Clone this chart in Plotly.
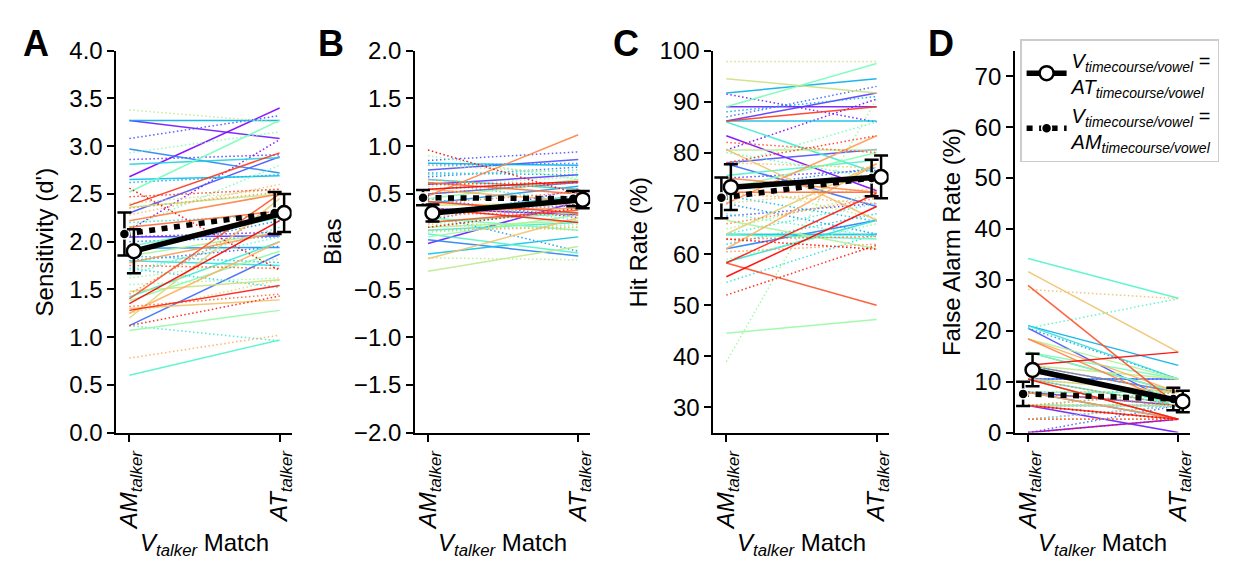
import plotly.graph_objects as go
from plotly.subplots import make_subplots
import math

# ---- data: one row per subject, colour from rainbow colormap ----
# solid = V timecourse/vowel = AT, dotted = V timecourse/vowel = AM
# each pair: value at AM_talker, value at AT_talker

dprime_solid_am = [2.68, 3.27, 2.05, 2.30, 1.12, 2.97, 1.93, 3.27, 2.65, 2.81,
                   1.80, 1.42, 0.60, 1.95, 2.52, 1.38, 1.07, 1.85, 2.36, 1.48,
                   1.20, 1.30, 1.25, 1.78, 2.22, 2.15, 1.40, 2.38, 1.28, 1.35]
dprime_solid_at = [3.40, 3.08, 2.06, 2.89, 1.87, 2.72, 1.94, 3.27, 2.69, 2.88,
                   1.75, 2.00, 0.97, 2.25, 3.27, 1.90, 1.28, 2.10, 2.50, 1.60,
                   2.45, 1.39, 2.00, 2.10, 2.50, 2.32, 2.50, 2.93, 1.54, 2.22]
dprime_dot_am = [2.12, 2.05, 2.86, 3.08, 1.80, 2.00, 1.90, 2.62, 1.85, 1.72,
                 2.20, 1.12, 1.65, 1.70, 2.15, 2.93, 1.55, 1.62, 3.38, 2.40,
                 1.25, 2.28, 0.78, 2.35, 1.45, 1.32, 1.75, 2.47, 1.12, 2.56]
dprime_dot_at = [3.07, 2.10, 2.91, 3.32, 1.95, 2.05, 2.22, 2.70, 1.78, 1.52,
                 2.28, 0.96, 2.15, 2.05, 2.80, 3.15, 1.62, 1.82, 3.25, 2.55,
                 1.60, 2.60, 1.02, 2.52, 2.35, 1.45, 1.72, 2.55, 1.43, 1.70]

bias_solid_am = [0.35, -0.02, 0.60, 0.75, 0.50, 0.02, 0.40, 0.82, -0.13, 0.65,
                 0.30, 0.12, 0.08, 0.20, 0.25, 0.45, 0.05, 0.15, -0.31, 0.38,
                 0.28, -0.18, 0.55, 0.32, 0.48, 0.62, 0.20, 0.42, 0.35, 0.55]
bias_solid_at = [0.28, 0.42, 0.70, 0.86, 0.62, -0.15, 0.58, 0.80, 0.05, 0.55,
                 0.48, 0.20, -0.12, 0.30, 0.12, 0.65, 0.28, 0.22, -0.05, 0.40,
                 0.45, 0.25, 0.42, 0.35, 1.12, 0.50, 0.33, 0.30, 0.20, 0.63]
bias_dot_am = [0.22, 0.45, 0.30, 0.85, 0.68, 0.80, 0.28, 0.72, 0.55, 0.15,
               0.62, 0.70, 0.45, 0.35, 0.10, 0.90, 0.20, 0.58, -0.17, 0.80,
               0.18, 0.25, 0.12, 0.65, 0.40, 0.30, 0.50, 0.60, 0.15, 0.96]
bias_dot_at = [0.55, 0.25, 0.38, 0.94, 0.78, 0.82, -0.10, 0.70, 0.62, 0.35,
               0.42, 0.75, 0.22, 0.30, 0.18, 0.65, 0.15, 0.68, -0.19, 0.72,
               0.12, 0.40, 0.15, 0.55, 0.52, 0.28, 0.62, 0.62, 0.35, 0.50]

hit_solid_am = [83.3, 89.0, 86.2, 78.0, 77.8, 61.1, 63.9, 91.7, 86.2, 63.9,
                58.5, 86.0, 75.5, 63.9, 89.0, 72.8, 44.5, 66.7, 80.5, 94.5,
                64.0, 80.6, 61.1, 70.0, 75.0, 72.2, 58.3, 86.2, 58.3, 55.6]
hit_solid_at = [72.5, 89.0, 91.7, 80.6, 69.4, 66.7, 63.9, 94.5, 86.2, 63.9,
                66.7, 76.0, 78.5, 63.0, 97.5, 80.0, 47.2, 61.1, 80.5, 91.7,
                77.8, 66.7, 77.8, 83.3, 72.2, 72.2, 50.0, 89.0, 72.0, 69.4]
hit_dot_am = [80.5, 91.5, 75.0, 67.5, 87.0, 73.0, 70.0, 88.0, 71.5, 62.0,
              54.5, 64.0, 68.0, 80.0, 77.5, 59.0, 38.9, 65.0, 74.0, 97.9,
              70.0, 78.0, 72.0, 60.5, 66.0, 63.0, 82.0, 78.0, 52.0, 63.0]
hit_dot_at = [90.5, 86.0, 76.5, 70.0, 93.0, 77.0, 64.0, 91.0, 66.5, 68.0,
              64.0, 70.0, 63.5, 75.0, 86.0, 66.0, 90.5, 72.0, 67.0, 97.9,
              73.0, 77.0, 70.0, 62.0, 71.0, 63.5, 80.0, 83.3, 61.8, 61.0]

fa_solid_am = [0.0, 5.3, 7.9, 20.5, 10.5, 13.2, 7.9, 21.0, 15.8, 5.3,
               21.0, 10.5, 34.2, 13.2, 15.8, 7.9, 15.8, 18.4, 13.2, 5.3,
               10.5, 31.6, 18.4, 7.9, 18.4, 10.5, 28.9, 5.3, 10.5, 13.2]
fa_solid_at = [2.6, 0.0, 5.3, 5.3, 10.5, 7.9, 2.6, 13.2, 7.9, 5.3,
               10.5, 5.3, 26.4, 5.3, 10.5, 7.9, 7.9, 10.5, 10.5, 5.3,
               7.9, 15.8, 7.9, 2.6, 5.3, 2.6, 5.3, 2.6, 2.6, 15.8]
fa_dot_am = [2.6, 2.6, 5.3, 10.5, 0.0, 5.3, 20.5, 7.9, 5.3, 10.5,
             5.3, 12.9, 20.5, 7.9, 13.2, 2.6, 5.3, 10.5, 5.3, 2.6,
             7.9, 28.1, 2.6, 5.3, 10.5, 2.6, 13.2, 7.9, 0.0, 5.3]
fa_dot_at = [2.6, 5.3, 2.6, 10.5, 5.3, 5.3, 10.5, 7.9, 5.3, 2.6,
             7.9, 5.3, 26.3, 5.3, 7.9, 5.3, 2.6, 7.9, 7.9, 2.6,
             5.3, 26.3, 2.6, 7.9, 5.3, 2.6, 7.9, 5.3, 2.6, 2.6]

# group means and error (at AM_talker, AT_talker)
mean_solid = {"A": [1.90, 2.30], "B": [0.30, 0.44], "C": [73.2, 75.2], "D": [12.3, 6.1]}
err_solid = {"A": [0.23, 0.20], "B": [0.09, 0.09], "C": [4.5, 4.2], "D": [3.2, 2.1]}
mean_dot = {"A": [2.08, 2.30], "B": [0.46, 0.45], "C": [71.1, 75.0], "D": [7.6, 6.6]}
err_dot = {"A": [0.225, 0.22], "B": [0.08, 0.08], "C": [4.0, 3.6], "D": [2.4, 2.2]}

x_cats = [0, 1]
x_ticktext = ["<i>AM<sub>talker</sub></i>", "<i>AT<sub>talker</sub></i>"]
y_titles = ["Sensitivity (d')", "Bias", "Hit Rate (%)", "False Alarm Rate (%)"]
panel_letters = ["A", "B", "C", "D"]


def rainbow(v):
    r = min(1.0, abs(2 * v - 0.5))
    g = math.sin(math.pi * v)
    b = math.cos(math.pi * v / 2)
    return f"rgb({int(r*255)},{int(g*255)},{int(b*255)})"


panels = [
    ("A", dprime_solid_am, dprime_solid_at, dprime_dot_am, dprime_dot_at, [0, 4], 0.5),
    ("B", bias_solid_am, bias_solid_at, bias_dot_am, bias_dot_at, [-2, 2], 0.5),
    ("C", hit_solid_am, hit_solid_at, hit_dot_am, hit_dot_at, [25, 100], 10),
    ("D", fa_solid_am, fa_solid_at, fa_dot_am, fa_dot_at, [0, 75], 10),
]

fig = make_subplots(rows=1, cols=4)
n = len(dprime_solid_am)
FONT = "Liberation Sans, Arial, sans-serif"
FS = 24

for p, (key, s_am, s_at, d_am, d_at, yr, dt) in enumerate(panels):
    col = p + 1
    for i in range(n):
        c = rainbow(i / (n - 1))
        fig.add_trace(go.Scatter(x=x_cats, y=[d_am[i], d_at[i]], mode="lines",
                                 line=dict(color=c, width=1.5, dash="1.5px,2.5px"),
                                 opacity=0.9, showlegend=False, hoverinfo="skip"),
                      row=1, col=col)
        fig.add_trace(go.Scatter(x=x_cats, y=[s_am[i], s_at[i]], mode="lines",
                                 line=dict(color=c, width=1.5),
                                 opacity=0.9, showlegend=False, hoverinfo="skip"),
                      row=1, col=col)

    fig.add_trace(go.Scatter(
        x=[x - 0.033 for x in x_cats], y=mean_dot[key], mode="lines+markers",
        line=dict(color="black", width=5.5, dash="6px,6.5px"),
        marker=dict(symbol="circle", size=10, color="black", line=dict(color="white", width=1.5)),
        error_y=dict(type="data", array=err_dot[key], thickness=2.5, width=7, color="black"),
        name="<i>V<sub>timecourse/vowel</sub></i> =<br><i>AM<sub>timecourse/vowel</sub></i>",
        showlegend=(key == "D"), legendrank=2), row=1, col=col)
    fig.add_trace(go.Scatter(
        x=[x + 0.03 for x in x_cats], y=mean_solid[key], mode="lines+markers",
        line=dict(color="black", width=5.5),
        marker=dict(symbol="circle", size=14, color="white", line=dict(color="black", width=2.5)),
        error_y=dict(type="data", array=err_solid[key], thickness=2.5, width=7, color="black"),
        name="<i>V<sub>timecourse/vowel</sub></i> =<br><i>AT<sub>timecourse/vowel</sub></i>",
        showlegend=(key == "D"), legendrank=1), row=1, col=col)

    fig.update_yaxes(range=yr, dtick=dt, tick0=yr[0] if key != "C" else 0,
                     tickformat=".1f" if key in "AB" else "d",
                     showline=True, linecolor="black", linewidth=2,
                     ticks="outside", ticklen=7, tickwidth=2, tickcolor="black",
                     showgrid=False, zeroline=False,
                     tickfont=dict(size=FS, color="black", family=FONT),
                     row=1, col=col)
    fig.update_xaxes(range=[-0.086, 1.08], tickvals=x_cats, ticktext=x_ticktext,
                     tickangle=-90, showline=True, linecolor="black", linewidth=2,
                     ticks="outside", ticklen=7, tickwidth=2, tickcolor="black",
                     showgrid=False, zeroline=False,
                     tickfont=dict(size=24, color="black", family=FONT),
                     row=1, col=col)

# panel geometry (paper coords)
x_domains = [[0.0868, 0.2283], [0.328, 0.4695], [0.569, 0.7105], [0.8127, 0.9542]]
y_domain = [0.2425, 0.947]
for p in range(4):
    fig.layout[f"xaxis{'' if p == 0 else p + 1}"].domain = x_domains[p]
    fig.layout[f"yaxis{'' if p == 0 else p + 1}"].domain = y_domain

annos = []
letter_x = [27, 324, 620, 937]
ytitle_x = [36, 325, 633, 947]
for p in range(4):
    annos.append(dict(text=f"<b>{panel_letters[p]}</b>", x=letter_x[p] / 1244, y=1 - 23 / 569,
                      xref="paper", yref="paper", showarrow=False,
                      font=dict(size=36, family=FONT, color="black"), xanchor="center", yanchor="middle"))
    annos.append(dict(text=y_titles[p], x=ytitle_x[p] / 1244, y=sum(y_domain) / 2,
                      xref="paper", yref="paper", showarrow=False, textangle=-90,
                      font=dict(size=FS, family=FONT, color="black"), xanchor="center", yanchor="middle"))
    annos.append(dict(text="<i>V<sub>talker</sub></i> Match", x=sum(x_domains[p]) / 2, y=1 - 549 / 569,
                      xref="paper", yref="paper", showarrow=False,
                      font=dict(size=FS, family=FONT, color="black"), xanchor="center", yanchor="middle"))

fig.update_layout(
    width=1244, height=569,
    margin=dict(l=0, r=0, t=0, b=0),
    plot_bgcolor="white", paper_bgcolor="white",
    annotations=annos,
    legend=dict(x=1016 / 1244, y=1 - 18 / 569, xanchor="left", yanchor="top",
                bordercolor="#cccccc", borderwidth=1.5, bgcolor="rgba(255,255,255,0.85)",
                font=dict(size=20, family=FONT, color="black"),
                tracegroupgap=0, itemwidth=40),
    font=dict(family=FONT),
)

fig.write_html("out.html")
